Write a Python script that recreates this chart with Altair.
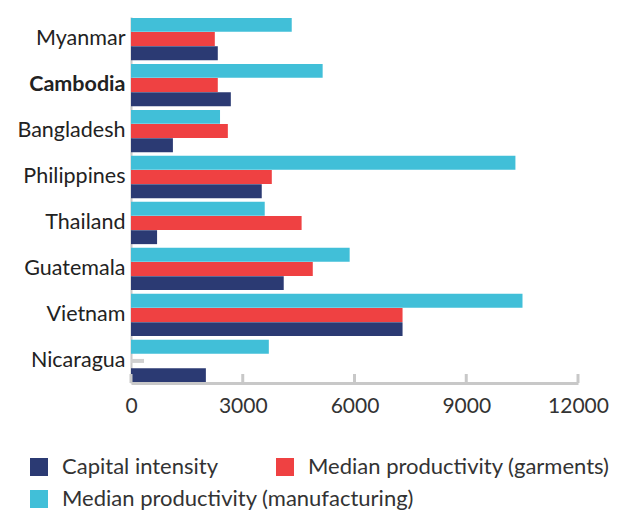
import altair as alt
import pandas as pd

countries = ["Myanmar", "Cambodia", "Bangladesh", "Philippines", "Thailand", "Guatemala", "Vietnam", "Nicaragua"]
capital_intensity = [2330, 2680, 1125, 3510, 700, 4100, 7290, 2010]
median_garments = [2250, 2330, 2600, 3780, 4580, 4880, 7290, None]
median_manufacturing = [4315, 5145, 2390, 10320, 3590, 5870, 10510, 3700]
series_names = ["Capital intensity", "Median productivity (garments)", "Median productivity (manufacturing)"]
series_colors = ["#2b3a73", "#ef4142", "#41bfd8"]
stack_order = ["Median productivity (manufacturing)", "Median productivity (garments)", "Capital intensity"]
x_ticks = [0, 3000, 6000, 9000, 12000]
missing_country = ["Nicaragua"]
missing_value = [350]

rows = []
for i, c in enumerate(countries):
    for s, vals in zip(series_names, [capital_intensity, median_garments, median_manufacturing]):
        if vals[i] is not None:
            rows.append({"country": c, "series": s, "value": vals[i]})
df = pd.DataFrame(rows)
miss_df = pd.DataFrame({"country": missing_country, "series": ["Median productivity (garments)"], "value": missing_value})
tick_df = pd.DataFrame({"t": x_ticks})

FONT = "Lato"
W, H = 447, 366
LEG_FS = 22

y_enc = alt.Y("country:N", sort=countries, title=None,
              scale=alt.Scale(paddingInner=0.08, paddingOuter=0.02),
              axis=alt.Axis(labelFontSize=21.5, labelFont=FONT, labelColor="#222222",
                            labelFontWeight=alt.expr("datum.value == 'Cambodia' ? 'bold' : 'normal'"),
                            ticks=False, domainColor="#c8c8c8", domainWidth=2,
                            labelPadding=6, labelLimit=200))
yoff = alt.YOffset("series:N", sort=stack_order, scale=alt.Scale(domain=stack_order, paddingInner=0.02))

x_enc = alt.X("value:Q", title=None,
              scale=alt.Scale(domain=[0, 12000], nice=False),
              axis=alt.Axis(values=x_ticks, format="d", grid=False, tickSize=0,
                            domainColor="#c8c8c8", domainWidth=3,
                            labelFontSize=21, labelFont=FONT, labelColor="#333333",
                            labelPadding=12, labelFlush=False))


def legend(y):
    return alt.Legend(title=None, orient="none", legendX=-103, legendY=y,
                      direction="horizontal",
                      symbolType="square", symbolSize=324, symbolStrokeWidth=0,
                      symbolOpacity=1,
                      labelFont=FONT, labelFontSize=LEG_FS, labelColor="#333333",
                      labelOffset=12, columnPadding=55, labelLimit=400)


bars_a = alt.Chart(df).transform_filter(
    alt.FieldOneOfPredicate(field="series", oneOf=series_names[:2])
).mark_bar().encode(
    x=x_enc,
    y=y_enc,
    yOffset=yoff,
    color=alt.Color("series:N", scale=alt.Scale(domain=series_names[:2], range=series_colors[:2]),
                    legend=legend(439)),
)

bars_b = alt.Chart(df).transform_filter(
    alt.FieldOneOfPredicate(field="series", oneOf=series_names[2:])
).mark_bar().encode(
    x=x_enc,
    y=y_enc,
    yOffset=yoff,
    color=alt.Color("series:N", scale=alt.Scale(domain=series_names[2:], range=series_colors[2:]),
                    legend=legend(471)),
)

miss = alt.Chart(miss_df).mark_bar(color="#d0d0d0", height=4).encode(
    x=alt.X("value:Q"),
    y=alt.Y("country:N", sort=countries),
    yOffset=alt.YOffset("series:N", sort=stack_order),
)

ticks = alt.Chart(tick_df).mark_rule(color="#c8c8c8", strokeWidth=3).encode(
    x=alt.X("t:Q"),
    y=alt.value(H - 9),
    y2=alt.value(H),
)

chart = alt.layer(bars_a, bars_b, miss, ticks).resolve_scale(color="independent").properties(
    width=W, height=H,
    autosize=alt.AutoSizeParams(type="none"),
    padding={"left": 123, "top": 9, "right": 35, "bottom": 128},
).configure_view(stroke=None)

chart.save("out.html", embed_options={"renderer": "svg", "actions": False})
